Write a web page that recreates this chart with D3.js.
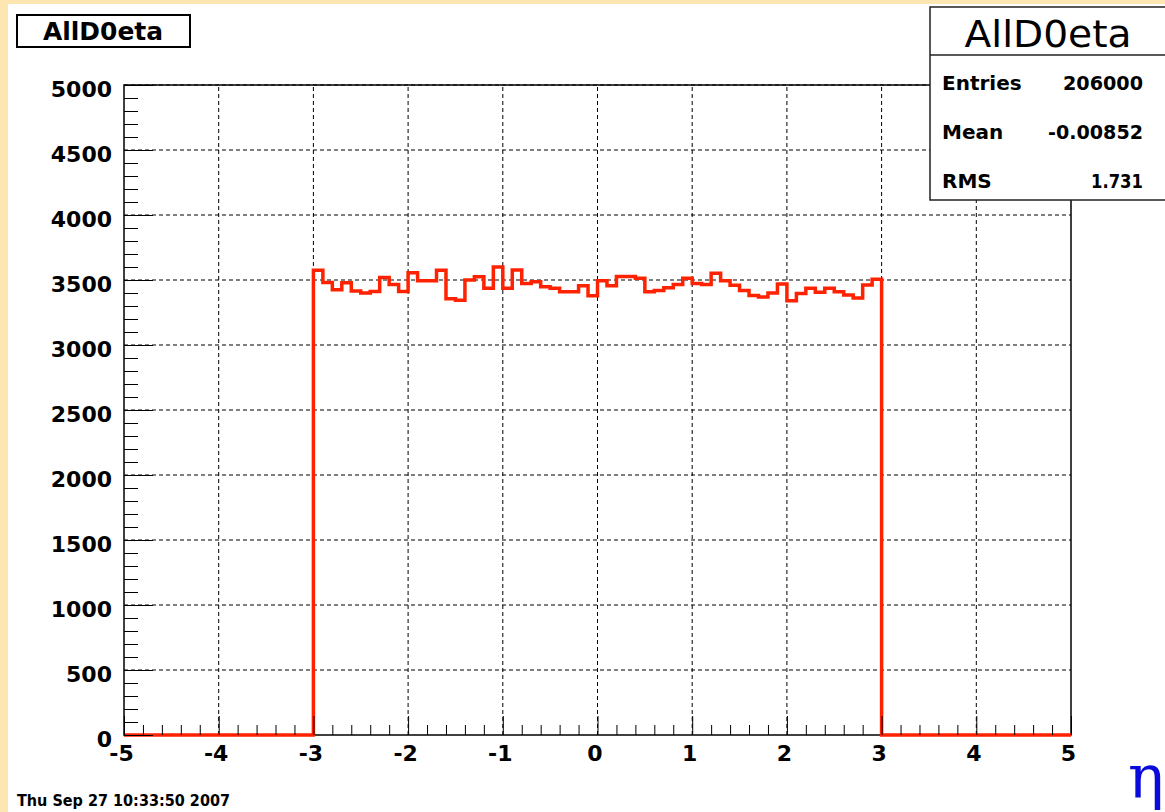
<!DOCTYPE html>
<html>
<head>
<meta charset="utf-8">
<script src="https://cdn.jsdelivr.net/npm/d3@7"></script>
<style>
  html, body { margin: 0; padding: 0; background: #fde6b2; }
  svg { display: block; }
</style>
</head>
<body>
<svg id="c" width="1165" height="812"></svg>
<script>
// Histogram AllD0eta: 100 bins of width 0.1 over eta in [-5, 5]
const histName = "AllD0eta";
const binLow = -5;
const binWidth = 0.1;
const counts = [
  0, 0, 0, 0, 0, 0, 0, 0, 0, 0,
  0, 0, 0, 0, 0, 0, 0, 0, 0, 0,
  3575, 3480, 3425, 3478, 3415, 3400, 3412, 3520, 3465, 3412,
  3555, 3495, 3495, 3575, 3355, 3345, 3500, 3525, 3436, 3600,
  3436, 3577, 3474, 3487, 3449, 3436, 3410, 3410, 3455, 3378,
  3495, 3455, 3526, 3526, 3513, 3410, 3420, 3440, 3465, 3513,
  3474, 3465, 3551, 3495, 3460, 3420, 3380, 3370, 3400, 3470,
  3340, 3397, 3436, 3405, 3436, 3410, 3385, 3362, 3462, 3505,
  0, 0, 0, 0, 0, 0, 0, 0, 0, 0,
  0, 0, 0, 0, 0, 0, 0, 0, 0, 0
];
const xTicks = [-5, -4, -3, -2, -1, 0, 1, 2, 3, 4, 5];
const yTicks = [0, 500, 1000, 1500, 2000, 2500, 3000, 3500, 4000, 4500, 5000];
const statLabels = ["Entries", "Mean", "RMS"];
const statValues = ["206000", "-0.00852", "1.731"];
const dateText = "Thu Sep 27 10:33:50 2007";
const xTitle = "η";

const svg = d3.select("#c");
const FONT = "'DejaVu Sans', sans-serif";

// pad
svg.append("rect").attr("x", 8).attr("y", 4).attr("width", 1157).attr("height", 808).attr("fill", "#ffffff");

const x = d3.scaleLinear().domain([-5, 5]).range([124, 1071]);
const y = d3.scaleLinear().domain([0, 5000]).range([735, 85]);

// grid
const grid = svg.append("g").attr("stroke", "#000").attr("stroke-width", 1).attr("stroke-dasharray", "4,3").attr("fill", "none");
xTicks.filter(v => v > -5 && v < 5).forEach(v => {
  grid.append("line").attr("x1", x(v)).attr("x2", x(v)).attr("y1", y(0)).attr("y2", y(5000));
});
yTicks.filter(v => v > 0).forEach(v => {
  grid.append("line").attr("x1", x(-5)).attr("x2", x(5)).attr("y1", y(v)).attr("y2", y(v));
});

// frame
svg.append("rect").attr("x", x(-5)).attr("y", y(5000))
  .attr("width", x(5) - x(-5)).attr("height", y(0) - y(5000))
  .attr("fill", "none").attr("stroke", "#000").attr("stroke-width", 1.5);

// histogram outline
const pts = [[x(binLow), y(0)]];
counts.forEach((c, i) => {
  const lo = binLow + i * binWidth, hi = lo + binWidth;
  pts.push([x(lo), y(c)]);
  pts.push([x(hi), y(c)]);
});
pts.push([x(binLow + counts.length * binWidth), y(0)]);
svg.append("path").attr("d", d3.line()(pts))
  .attr("fill", "none").attr("stroke", "#ff2200").attr("stroke-width", 3.5)
  .attr("stroke-linejoin", "miter");

// axes (ticks point into the frame)
function styleAxis(g) {
  g.select(".domain").remove();
  g.selectAll(".tick line").attr("stroke", "#000").attr("stroke-width", 1);
  g.selectAll("text").attr("font-family", FONT).attr("font-weight", "bold")
    .attr("font-size", 22).attr("fill", "#000");
}
const yMinor = d3.range(0, 5001, 100).filter(v => v % 500 !== 0);
const xMinor = d3.range(-50, 51, 2).map(v => v / 10).filter(v => !Number.isInteger(v));

svg.append("g").attr("transform", `translate(${x(-5)},0)`)
  .call(d3.axisLeft(y).tickValues(yMinor).tickSizeInner(-14).tickSizeOuter(0).tickFormat(""))
  .call(styleAxis);
const yAx = svg.append("g").attr("transform", `translate(${x(-5)},0)`)
  .call(d3.axisLeft(y).tickValues(yTicks).tickSizeInner(-29).tickSizeOuter(0).tickPadding(12).tickFormat(d3.format("d")))
  .call(styleAxis);
yAx.selectAll("text").attr("dy", "0.5em");

svg.append("g").attr("transform", `translate(0,${y(0)})`)
  .call(d3.axisBottom(x).tickValues(xMinor).tickSizeInner(-10).tickSizeOuter(0).tickFormat(""))
  .call(styleAxis);
const xAx = svg.append("g").attr("transform", `translate(0,${y(0)})`)
  .call(d3.axisBottom(x).tickValues(xTicks).tickSizeInner(-19).tickSizeOuter(0).tickPadding(10).tickFormat(d3.format("d")))
  .call(styleAxis);
xAx.selectAll("text").attr("x", -3).text(d => d < 0 ? "-" + Math.abs(d) : String(d));

// title box
svg.append("rect").attr("x", 17).attr("y", 15).attr("width", 173).attr("height", 32)
  .attr("fill", "#fff").attr("stroke", "#000").attr("stroke-width", 2);
svg.append("text").attr("x", 103).attr("y", 40).attr("text-anchor", "middle")
  .attr("font-family", FONT).attr("font-weight", "bold").attr("font-size", 24)
  .attr("textLength", 120).attr("lengthAdjust", "spacingAndGlyphs").text(histName);

// statistics box
const sb = svg.append("g");
sb.append("rect").attr("x", 930).attr("y", 7).attr("width", 250).attr("height", 193)
  .attr("fill", "#fff").attr("stroke", "#222").attr("stroke-width", 1.5);
sb.append("line").attr("x1", 930).attr("x2", 1165).attr("y1", 55).attr("y2", 55)
  .attr("stroke", "#222").attr("stroke-width", 1.5);
sb.append("text").attr("x", 1048).attr("y", 47).attr("text-anchor", "middle")
  .attr("font-family", FONT).attr("font-size", 38)
  .attr("textLength", 167).attr("lengthAdjust", "spacingAndGlyphs").text(histName);
const rowY = [90, 139, 188];
const valW = [80, 95, 52];
statLabels.forEach((t, i) => {
  sb.append("text").attr("x", 942).attr("y", rowY[i])
    .attr("font-family", FONT).attr("font-weight", "bold").attr("font-size", 20).text(t);
  sb.append("text").attr("x", 1143).attr("y", rowY[i]).attr("text-anchor", "end")
    .attr("font-family", FONT).attr("font-weight", "bold").attr("font-size", 19)
    .attr("textLength", valW[i]).attr("lengthAdjust", "spacingAndGlyphs").text(statValues[i]);
});

// date stamp
svg.append("text").attr("x", 17).attr("y", 806)
  .attr("font-family", FONT).attr("font-weight", "bold").attr("font-size", 15)
  .attr("textLength", 213).attr("lengthAdjust", "spacingAndGlyphs").text(dateText);

// x-axis title
svg.append("text").attr("x", 1146).attr("y", 798).attr("text-anchor", "middle")
  .attr("font-family", "'DejaVu Serif', 'Liberation Serif', serif").attr("font-size", 60)
  .attr("fill", "#0a0adc").text(xTitle);
</script>
</body>
</html>
